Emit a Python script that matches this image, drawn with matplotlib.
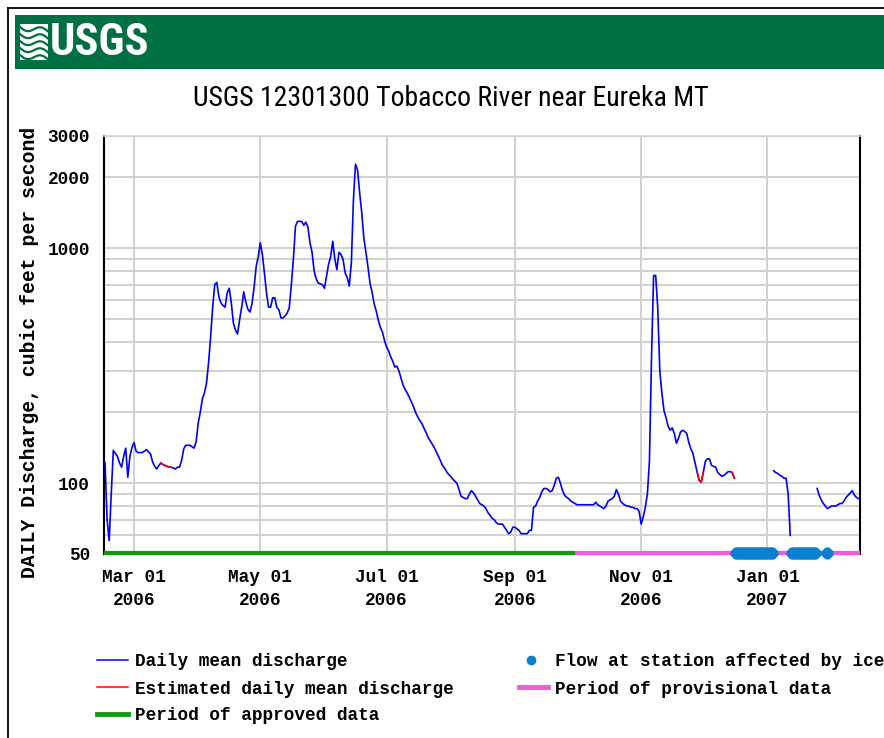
import numpy as np
import pandas as pd
import matplotlib
matplotlib.use("Agg")
import matplotlib.pyplot as plt
import matplotlib.transforms as mtransforms
from matplotlib.lines import Line2D
from matplotlib.patches import Rectangle

# ---------------- data ----------------
first_day = "2006-02-15"
last_day = "2007-02-14"
nan = np.nan
discharge = [
    122, 70, 57, 90, 138, 134, 130, 122, 117, 130, 141, 106, 130, 142,           # Feb 15 - Feb 28
    149, 137, 135, 135, 135, 137, 139, 136, 133, 123, 118, 115, 119, 122, 120,   # Mar
    119, 118, 117, 117, 116, 115, 117, 117, 125, 140, 145, 145, 145, 143, 141, 150,
    180, 200, 228, 242, 266, 324, 418, 561, 700, 715, 620, 585, 570, 561, 645,   # Apr
    675, 585, 480, 449, 431, 495, 561, 652, 590, 550, 535, 580, 680, 835, 920,
    1055, 940, 785, 645, 561, 561, 615, 615, 560, 546, 505, 505, 515, 530, 557,  # May
    700, 900, 1240, 1300, 1300, 1300, 1250, 1290, 1230, 1055, 960, 800, 740, 710, 705, 700,
    675, 760, 855, 920, 1070, 900, 810, 960, 940, 894, 785, 750, 690, 870, 1613, # Jun
    2275, 2150, 1720, 1420, 1110, 960, 835, 710, 650, 580, 540, 495, 460, 440, 405,
    380, 365, 345, 330, 312, 315, 300, 280, 261, 250, 242, 232, 222, 212, 200, 192,  # Jul
    185, 180, 172, 165, 157, 152, 147, 142, 136, 130, 125, 119, 116, 112, 109,
    107, 104, 102, 100, 94, 88, 87, 86, 86, 90, 93, 91, 88, 85, 82, 81,             # Aug
    80, 78, 75, 73, 71, 70, 68, 67, 67, 67, 65, 63, 61, 62, 65,
    65, 64, 63, 61, 61, 61, 61, 63, 63, 79, 80, 84, 87, 92, 95,                     # Sep
    95, 94, 92, 93, 98, 105, 106, 100, 93, 89, 87, 86, 84, 83, 82,
    81, 81, 81, 81, 81, 81, 81, 81, 81, 83, 81, 80, 79, 78, 80, 84,                 # Oct
    85, 86, 88, 94, 90, 84, 82, 81, 80, 80, 79, 79, 78, 78, 76,
    67, 72, 79, 90, 125, 345, 765, 765, 557, 300, 242, 204, 190, 175, 168,          # Nov
    172, 163, 148, 155, 165, 168, 166, 163, 149, 140, 134, 122, 112, 103, 101,
    111, 124, 127, 127, 119, 118, 117, 111, 109, 107, 108, 110, 112, 112, 111, 105,  # Dec
    nan, nan, nan, nan, nan, nan, nan, nan, nan, nan, nan, nan, nan, nan, nan,
    nan, nan, nan, 113, 111, 110, 108, 107, 105, 105, 90, 60, nan, nan, nan, nan,    # Jan
    nan, nan, nan, nan, nan, nan, nan, nan, 95, 89, 85, 82, 80, 78, 79,
    80, 80, 80, 81, 82, 82, 84, 87, 89, 91, 93, 89, 87, 86,                         # Feb 1 - 14
]
estimated_periods = [("2006-03-14", "2006-03-19"),
                     ("2006-11-28", "2006-12-01"),
                     ("2006-12-15", "2006-12-16")]
ice_periods = [("2006-12-17", "2007-01-03"),
               ("2007-01-13", "2007-01-24"),
               ("2007-01-30", "2007-01-30")]
approved_period = ("2006-02-14 12:00", "2006-09-30")
provisional_period = ("2006-09-30", "2007-02-14 18:00")

x_tick_dates = ["2006-03-01", "2006-05-01", "2006-07-01",
                "2006-09-01", "2006-11-01", "2007-01-01"]
x_tick_labels = ["Mar 01\n2006", "May 01\n2006", "Jul 01\n2006",
                 "Sep 01\n2006", "Nov 01\n2006", "Jan 01\n2007"]
y_tick_values = [50, 100, 1000, 2000, 3000]
y_grid_values = [60, 70, 80, 90, 100, 200, 300, 400, 500, 600, 700, 800, 900,
                 1000, 2000, 3000]
title = "USGS 12301300 Tobacco River near Eureka MT"
y_label = "DAILY Discharge, cubic feet per second"
legend_labels = ["Daily mean discharge", "Estimated daily mean discharge",
                 "Period of approved data", "Flow at station affected by ice",
                 "Period of provisional data"]

# ---------------- styles ----------------
BLUE = "#0000ff"
RED = "#ff0000"
GREEN = "#119a11"
MAGENTA = "#f05ae0"
ICE = "#0b7fd0"
GRID = "#d2d2d2"
BANNER = "#006f41"
MONO = ["Liberation Mono", "DejaVu Sans Mono"]
NARROW = ["Liberation Sans Narrow", "Roboto Condensed", "Liberation Sans", "DejaVu Sans"]

W, H = 884, 738
fig = plt.figure(figsize=(W / 100, H / 100), dpi=100)
fig.patch.set_facecolor("white")

def fx(px):
    return px / W

def fy(py):
    return 1 - py / H

# outer frame (top and left)
fig.add_artist(Line2D([fx(8), 1], [fy(8), fy(8)], color="black", lw=1.3))
fig.add_artist(Line2D([fx(8), fx(8)], [0, fy(8)], color="black", lw=1.3))

# banner
fig.add_artist(Rectangle((fx(15), fy(69)), 1 - fx(15), 54 / H,
                         transform=fig.transFigure, color=BANNER, lw=0))
# logo icon
fig.add_artist(Rectangle((fx(20), fy(60)), 28 / W, 36 / H,
                         transform=fig.transFigure, color="white", lw=0))
tt = np.linspace(0, 1, 40)
for k in range(5):
    yy = fy(27 + k * 7) - 0.004 * np.sin(tt * 2 * np.pi) - 0.006 * tt
    fig.add_artist(Line2D(fx(20) + tt * 28 / W, yy, color=BANNER, lw=1.6))
fig.text(fx(50), fy(43), "USGS", color="white", fontsize=32, fontweight="bold",
         family=NARROW, ha="left", va="center")

# title
fig.text(fx(451), fy(99), title, fontsize=20, family=NARROW,
         ha="center", va="center", color="black")

# ---------------- axes ----------------
ax = fig.add_axes([fx(104), fy(554), (860 - 104) / W, (554 - 136) / H])
ax.set_yscale("log")
ax.set_ylim(50, 3000)
dates = pd.date_range(first_day, last_day, freq="D")
series = pd.Series(discharge, index=dates, dtype=float)
ax.set_xlim(pd.Timestamp(first_day) - pd.Timedelta(hours=12),
            pd.Timestamp(last_day) + pd.Timedelta(hours=17))

for v in y_grid_values:
    ax.axhline(v, color=GRID, lw=1.5, zorder=0)
for d in x_tick_dates:
    ax.axvline(pd.Timestamp(d), color=GRID, lw=1.5, zorder=0)

ax.plot(series.index, series.values, color=BLUE, lw=1.2, zorder=3)
for s, e in estimated_periods:
    part = series[s:e]
    ax.plot(part.index, part.values, color=RED, lw=1.2, zorder=4)

bar_tr = mtransforms.offset_copy(ax.transData, fig=fig, x=0, y=1.5, units="dots")
ax.plot([pd.Timestamp(approved_period[0]), pd.Timestamp(approved_period[1])], [50, 50],
        color=GREEN, lw=3.0, solid_capstyle="butt", transform=bar_tr, clip_on=False, zorder=5)
ax.plot([pd.Timestamp(provisional_period[0]), pd.Timestamp(provisional_period[1])], [50, 50],
        color=MAGENTA, lw=3.0, solid_capstyle="butt", transform=bar_tr, clip_on=False, zorder=5)
for s, e in ice_periods:
    idays = pd.date_range(s, e, freq="D")
    ax.plot(idays, [50] * len(idays), linestyle="none", marker="8", ms=8.6,
            color=ICE, mec="none", transform=bar_tr, clip_on=False, zorder=6)

ax.set_yticks(y_tick_values)
ax.set_yticklabels([str(v) for v in y_tick_values])
ax.yaxis.set_minor_locator(matplotlib.ticker.NullLocator())
ax.set_xticks([pd.Timestamp(d) for d in x_tick_dates])
ax.set_xticklabels(x_tick_labels, linespacing=1.45)
ax.tick_params(axis="both", length=0, labelsize=12.8)
ax.tick_params(axis="y", pad=10)
ax.tick_params(axis="x", pad=11)
for lab in ax.get_xticklabels() + ax.get_yticklabels():
    lab.set_family(MONO)
    lab.set_fontweight("bold")

for side in ["left", "bottom", "right"]:
    ax.spines[side].set_color("black")
    ax.spines[side].set_linewidth(1.5)
ax.spines["top"].set_color(GRID)
ax.spines["top"].set_linewidth(1.2)

fig.text(fx(30), fy(352), y_label, rotation=90, fontsize=14.2, family=MONO,
         fontweight="bold", ha="center", va="center")

# ---------------- legend (manual) ----------------
leg_font = dict(fontsize=12.8, family=MONO, fontweight="bold",
                ha="left", va="center_baseline")
fig.add_artist(Line2D([fx(97), fx(128)], [fy(660)] * 2, color=BLUE, lw=1.1))
fig.text(fx(135), fy(660), legend_labels[0], **leg_font)
fig.add_artist(Line2D([fx(97), fx(128)], [fy(687)] * 2, color=RED, lw=1.1))
fig.text(fx(135), fy(687), legend_labels[1], **leg_font)
fig.add_artist(Line2D([fx(97), fx(128)], [fy(714)] * 2, color=GREEN, lw=3.5))
fig.text(fx(135), fy(714), legend_labels[2], **leg_font)
fig.add_artist(Line2D([fx(531)], [fy(660)], color=ICE, marker="o", ms=6.0, ls="none"))
fig.text(fx(555), fy(660), legend_labels[3], **leg_font)
fig.add_artist(Line2D([fx(519), fx(548)], [fy(687)] * 2, color=MAGENTA, lw=3.5))
fig.text(fx(555), fy(687), legend_labels[4], **leg_font)

fig.savefig("out.png", dpi=100)
